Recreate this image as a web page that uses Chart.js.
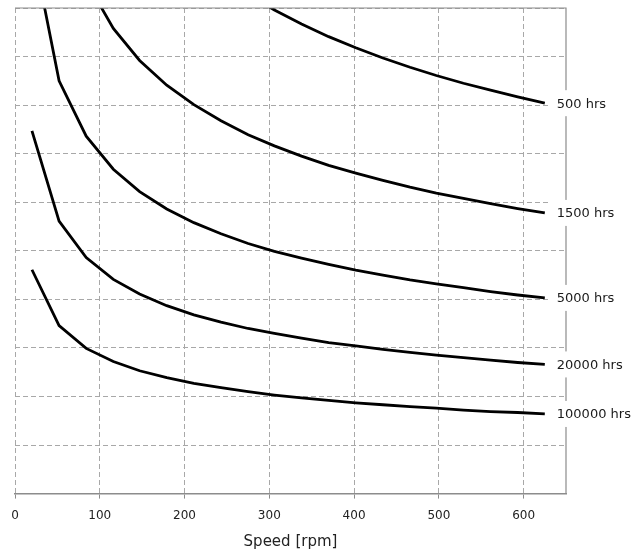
<!DOCTYPE html>
<html>
<head>
<meta charset="utf-8">
<script src="https://cdn.jsdelivr.net/npm/chart.js@4/dist/chart.umd.min.js"></script>
<style>
    html, body { margin: 0; padding: 0; background: #fff; }
    #wrap { width: 641px; height: 553px; }
</style>
</head>
<body>
<div id="wrap"><canvas id="life_chart" width="641" height="553"></canvas></div>
<script>
// Speed points (rpm) where each curve has a vertex
var speeds = [20, 52, 84, 116, 147, 179, 211, 243, 275, 306, 338, 370, 402, 434, 466, 497, 529, 561, 593, 625];

// Curve heights (no y labels in the original, grid units 0..10)
var hrs500    = [22.58, 16.95, 14.68, 13.32, 12.41, 11.70, 11.14, 10.68, 10.28, 9.96, 9.67, 9.41, 9.18, 8.97, 8.78, 8.61, 8.45, 8.31, 8.17, 8.04];
var hrs1500   = [16.23, 12.18, 10.55, 9.58, 8.92, 8.41, 8.01, 7.68, 7.39, 7.16, 6.95, 6.76, 6.60, 6.45, 6.31, 6.19, 6.08, 5.97, 5.87, 5.78];
var hrs5000   = [11.32, 8.50, 7.36, 6.68, 6.22, 5.86, 5.58, 5.35, 5.15, 4.99, 4.85, 4.72, 4.60, 4.50, 4.40, 4.32, 4.24, 4.16, 4.09, 4.03];
var hrs20000  = [7.47, 5.61, 4.86, 4.41, 4.11, 3.87, 3.68, 3.53, 3.40, 3.30, 3.20, 3.11, 3.04, 2.97, 2.91, 2.85, 2.80, 2.75, 2.70, 2.66];
var hrs100000 = [4.61, 3.46, 2.99, 2.72, 2.53, 2.39, 2.27, 2.18, 2.10, 2.03, 1.97, 1.92, 1.87, 1.83, 1.79, 1.76, 1.72, 1.69, 1.67, 1.64];

var curveNames = ["500 hrs", "1500 hrs", "5000 hrs", "20000 hrs", "100000 hrs"];
var curveValues = [hrs500, hrs1500, hrs5000, hrs20000, hrs100000];

var xTicks = [0, 100, 200, 300, 400, 500, 600];

var FONT = "'DejaVu Sans', Verdana, sans-serif";
var GRID = "#a8a8a8";
var FRAME = "#8c8c8c";

function toPoints(values) {
    var pts = [];
    for (var i = 0; i < speeds.length; i++) {
        pts.push({ x: speeds[i], y: values[i] });
    }
    return pts;
}

var datasets = [];
for (var i = 0; i < curveNames.length; i++) {
    datasets.push({
        label: curveNames[i],
        data: toPoints(curveValues[i]),
        borderColor: "#000",
        borderWidth: 2.8,
        pointRadius: 0,
        tension: 0,
        fill: false,
        clip: 0
    });
}

// Top/right frame and the end-of-curve labels
var frameAndLabels = {
    id: "frameAndLabels",
    afterDatasetsDraw: function(chart) {
        var ctx = chart.ctx;
        var area = chart.chartArea;
        ctx.save();
        ctx.strokeStyle = FRAME;
        ctx.lineWidth = 1.2;
        ctx.setLineDash([]);
        ctx.beginPath();
        ctx.moveTo(area.left, area.top);
        ctx.lineTo(area.right, area.top);
        ctx.lineTo(area.right, area.bottom);
        ctx.stroke();

        ctx.font = "13px " + FONT;
        ctx.textBaseline = "middle";
        for (var d = 0; d < chart.data.datasets.length; d++) {
            var meta = chart.getDatasetMeta(d);
            var last = meta.data[meta.data.length - 1];
            var text = chart.data.datasets[d].label;
            var w = ctx.measureText(text).width;
            ctx.fillStyle = "#fff";
            ctx.fillRect(last.x + 4, last.y - 13, w + 14, 26);
            ctx.fillStyle = "#1a1a1a";
            ctx.fillText(text, last.x + 12, last.y + 1);
        }
        ctx.restore();
    }
};

var chart = new Chart(document.getElementById("life_chart"), {
    type: "line",
    data: { datasets: datasets },
    options: {
        responsive: false,
        animation: false,
        layout: { padding: { left: 15, right: 75, top: 8, bottom: 0 } },
        plugins: {
            legend: { display: false },
            tooltip: { enabled: false }
        },
        scales: {
            x: {
                type: "linear",
                min: 0,
                max: 650,
                afterBuildTicks: function(axis) {
                    axis.ticks = xTicks.map(function(v) { return { value: v }; });
                },
                ticks: {
                    color: "#222",
                    font: { family: FONT, size: 12 },
                    padding: 10,
                    maxRotation: 0
                },
                grid: {
                    color: GRID,
                    tickLength: 5,
                    tickColor: FRAME,
                    tickBorderDash: []
                },
                border: { display: true, color: FRAME, width: 1.5, dash: [5, 3] },
                title: {
                    display: true,
                    text: "Speed [rpm]",
                    color: "#222",
                    font: { family: FONT, size: 15 },
                    padding: { top: 0, bottom: 2 }
                }
            },
            y: {
                type: "linear",
                min: 0,
                max: 10,
                ticks: { display: false, stepSize: 1 },
                grid: {
                    color: GRID,
                    drawTicks: false
                },
                border: { display: false, dash: [5, 3] }
            }
        }
    },
    plugins: [frameAndLabels]
});
</script>
</body>
</html>
